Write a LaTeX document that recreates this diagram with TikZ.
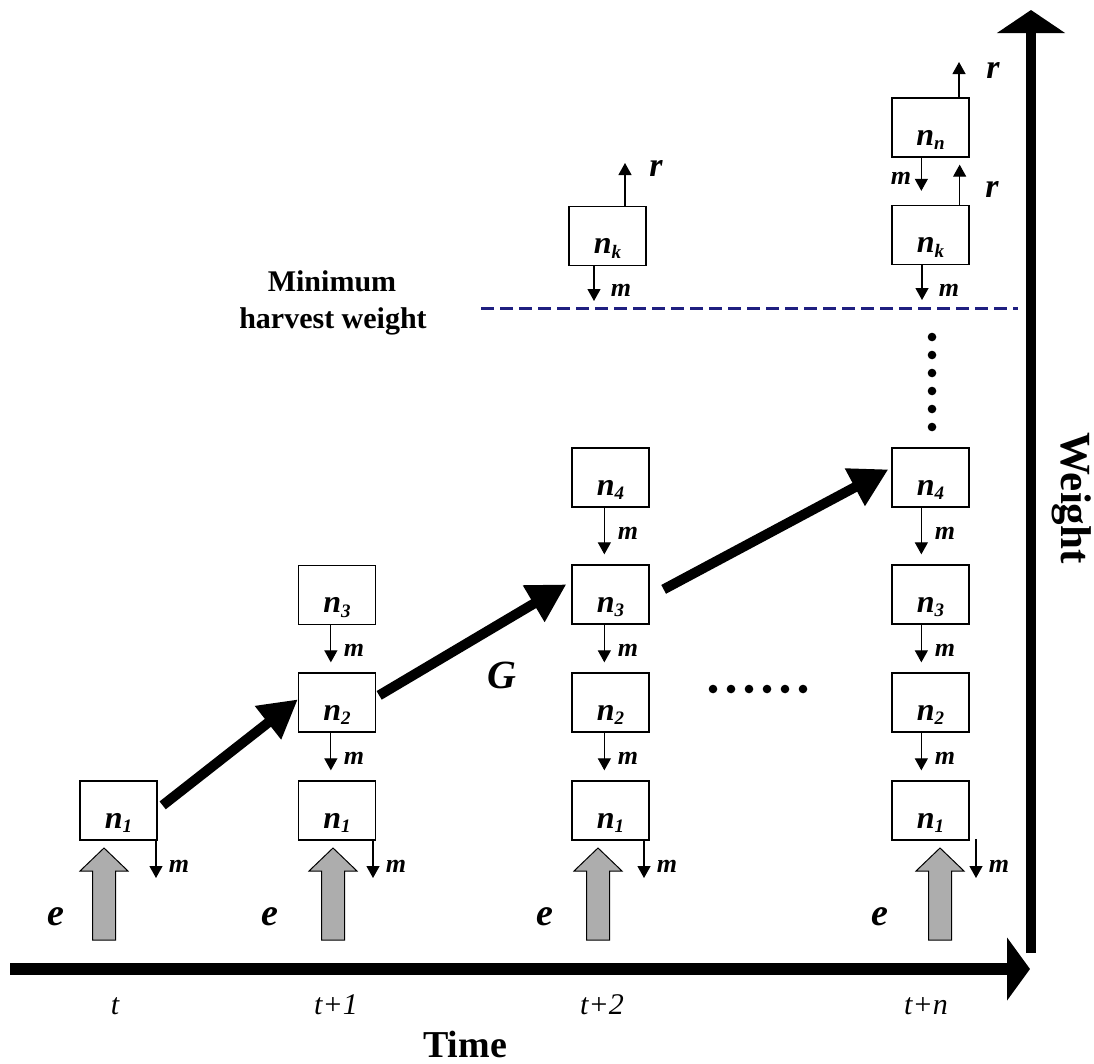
\documentclass[tikz,border=0pt]{standalone}
\usepackage{fontspec}
\setmainfont{Liberation Serif}
\usetikzlibrary{arrows.meta,calc}

% small lowered index for the node labels
\newcommand\sbx[1]{\raisebox{-4.5pt}{\fontsize{19}{19}\selectfont#1}}

\begin{document}
\begin{tikzpicture}[x=1pt,y=-1pt,
  box/.style={draw, line width=1.3pt, minimum width=77pt, minimum height=59pt,
    inner sep=0pt, text height=35pt, text depth=0pt,
    font=\fontsize{32}{32}\selectfont\bfseries\itshape},
  flow/.style={line width=1.2pt, -{Triangle[length=12pt,width=13pt]}},
  growth/.style={line width=10pt, -{Triangle[length=38pt,width=40pt]}},
  mlab/.style={inner sep=0pt, font=\fontsize{26}{26}\selectfont\bfseries\itshape},
  rlab/.style={inner sep=0pt, font=\fontsize{34}{34}\selectfont\bfseries\itshape},
  elab/.style={inner sep=0pt, font=\fontsize{38}{38}\selectfont\bfseries\itshape},
  tlab/.style={inner sep=0pt, anchor=base, font=\fontsize{30}{30}\selectfont\itshape},
  hwlab/.style={inner sep=0pt, anchor=base, font=\fontsize{30}{30}\selectfont\bfseries},
  hline/.style={line width=3pt, draw={rgb,1:red,0.12;green,0.12;blue,0.5}, dash pattern=on 13pt off 6pt},
  inarrow/.pic={\draw[fill=black!32, line width=1pt]
    (-11.5,0) -- (-11.5,-69) -- (-24,-69) -- (0,-92) -- (24,-69) -- (11.5,-69) -- (11.5,0) -- cycle;}
]
\useasboundingbox (0,0) rectangle (1094,1063);

% axes
\coordinate (t0) at (10,969);
\coordinate (t1) at (1030,969);
\coordinate (w0) at (1031,953);
\coordinate (w1) at (1031,10);
\draw[line width=12pt, -{Triangle[length=23pt,width=62pt]}] (t0) -- (t1);
\draw[line width=10pt, -{Triangle[length=23pt,width=67pt]}] (w0) -- (w1);
\node[inner sep=0pt, anchor=base, font=\fontsize{38}{38}\selectfont\bfseries] (timelab) at (465,1057) {Time};
\node[inner sep=0pt, anchor=base, rotate=-90, font=\fontsize{43}{43}\selectfont\bfseries] (weightlab) at (1061,498) {Weight};

% time labels
\node[tlab] (tt0) at (115,1014) {t};
\node[tlab] (tt1) at (336,1014) {t+1};
\node[tlab] (tt2) at (602,1014) {t+2};
\node[tlab] (ttn) at (926,1014) {t+n};

% minimum harvest weight
\node[hwlab] (hw1) at (332,291) {Minimum};
\node[hwlab] (hw2) at (333,328) {harvest weight};
\coordinate (hwa) at (481,308);
\coordinate (hwb) at (1018,308);
\draw[hline] (hwa) -- (hwb);

% weight classes
\node[box] (n1a) at (118.5,810.5) {n\sbx{1}};

\node[box] (n1b) at (337,810.5) {n\sbx{1}};
\node[box] (n2b) at (337,702.5) {n\sbx{2}};
\node[box] (n3b) at (337,595) {n\sbx{3}};

\node[box] (n1c) at (610.5,810.5) {n\sbx{1}};
\node[box] (n2c) at (610.5,702.5) {n\sbx{2}};
\node[box] (n3c) at (610.5,594.5) {n\sbx{3}};
\node[box] (n4c) at (610.5,477.5) {n\sbx{4}};
\node[box] (nkc) at (607.5,236) {n\sbx{k}};

\node[box] (n1d) at (930.5,810.5) {n\sbx{1}};
\node[box] (n2d) at (930.5,702.5) {n\sbx{2}};
\node[box] (n3d) at (930.5,594.5) {n\sbx{3}};
\node[box] (n4d) at (930.5,477.5) {n\sbx{4}};
\node[box] (nkd) at (930.5,235) {n\sbx{k}};
\node[box] (nnd) at (930.5,127.5) {n\sbx{n}};

% mortality between classes
\draw[flow] ([xshift=33pt]n3b.south west) -- ([xshift=33pt,yshift=10pt]n2b.north west);
\draw[flow] ([xshift=33pt]n2b.south west) -- ([xshift=33pt,yshift=10pt]n1b.north west);
\draw[flow] ([xshift=33pt]n4c.south west) -- ([xshift=33pt,yshift=10pt]n3c.north west);
\draw[flow] ([xshift=33pt]n3c.south west) -- ([xshift=33pt,yshift=10pt]n2c.north west);
\draw[flow] ([xshift=33pt]n2c.south west) -- ([xshift=33pt,yshift=10pt]n1c.north west);
\draw[flow] ([xshift=30pt]n4d.south west) -- ([xshift=30pt,yshift=10pt]n3d.north west);
\draw[flow] ([xshift=30pt]n3d.south west) -- ([xshift=30pt,yshift=10pt]n2d.north west);
\draw[flow] ([xshift=30pt]n2d.south west) -- ([xshift=30pt,yshift=10pt]n1d.north west);
\draw[flow] ([xshift=30pt]nnd.south west) -- ([xshift=30pt,yshift=14pt]nkd.north west);

\node[mlab] (m3b) at (354,650.5) {m};
\node[mlab] (m2b) at (354,758) {m};
\node[mlab] (m4c) at (628,533) {m};
\node[mlab] (m3c) at (628,650) {m};
\node[mlab] (m2c) at (628,758) {m};
\node[mlab] (m4d) at (945,533) {m};
\node[mlab] (m3d) at (945,650) {m};
\node[mlab] (m2d) at (945,758) {m};
\node[mlab] (mnd) at (901,178) {m};

% mortality of the smallest class
\coordinate (ma) at (156,878);
\coordinate (mb) at (373,878);
\coordinate (mc) at (644,878);
\coordinate (md0) at (976,839);
\coordinate (md) at (976,878);
\draw[flow] (n1a.south east -| ma) -- (ma);
\draw[flow] (n1b.south east -| mb) -- (mb);
\draw[flow] (n1c.south east -| mc) -- (mc);
\draw[flow] (md0) -- (md);
\node[mlab] (m1a) at (179,866) {m};
\node[mlab] (m1b) at (396,866) {m};
\node[mlab] (m1c) at (667,866) {m};
\node[mlab] (m1d) at (999,866) {m};

% mortality above the harvest weight
\coordinate (mkc) at (594,301);
\coordinate (mkd) at (922,300);
\draw[flow] (nkc.south -| mkc) -- (mkc);
\draw[flow] (nkd.south -| mkd) -- (mkd);
\node[mlab] (mkcl) at (621,290) {m};
\node[mlab] (mkdl) at (949,290) {m};

% removals
\coordinate (rc) at (625,163);
\coordinate (rn) at (959,62);
\draw[flow] (nkc.north -| rc) -- (rc);
\draw[flow] ([xshift=-10pt]nkd.north east) -- ([xshift=-10pt,yshift=-7pt]nnd.south east);
\draw[flow] (nnd.north -| rn) -- (rn);
\node[rlab] (rcl) at (656,168) {r};
\node[rlab] (rkl) at (992,189) {r};
\node[rlab] (rnl) at (993,70) {r};

% growth
\draw[growth] ([xshift=5pt,yshift=-25pt]n1a.north east) -- ([yshift=-27pt]n2b.north west);
\draw[growth] ([xshift=3pt,yshift=-23pt]n2b.north east) -- ([xshift=-5pt,yshift=-20pt]n3c.north west);
\draw[growth] ([xshift=14pt,yshift=-25pt]n3c.north east) -- ([xshift=-3pt,yshift=-22pt]n4d.north west);
\node[inner sep=0pt, font=\fontsize{40}{40}\selectfont\bfseries\itshape] (glab) at (502,675) {G};

% recruitment
\pic at (104,940) {inarrow};
\pic at (333,940) {inarrow};
\pic at (598,940) {inarrow};
\pic at (940,940) {inarrow};
\node[elab] (ea) at (56,917) {e};
\node[elab] (eb) at (270,917) {e};
\node[elab] (ec) at (545,917) {e};
\node[elab] (ed) at (880,917) {e};

% ellipses
\foreach \i in {0,...,5} {
  \fill (713+18*\i,689) circle (4.3);
  \fill (932,337+18*\i) circle (4.3);
}
\end{tikzpicture}
\end{document}
